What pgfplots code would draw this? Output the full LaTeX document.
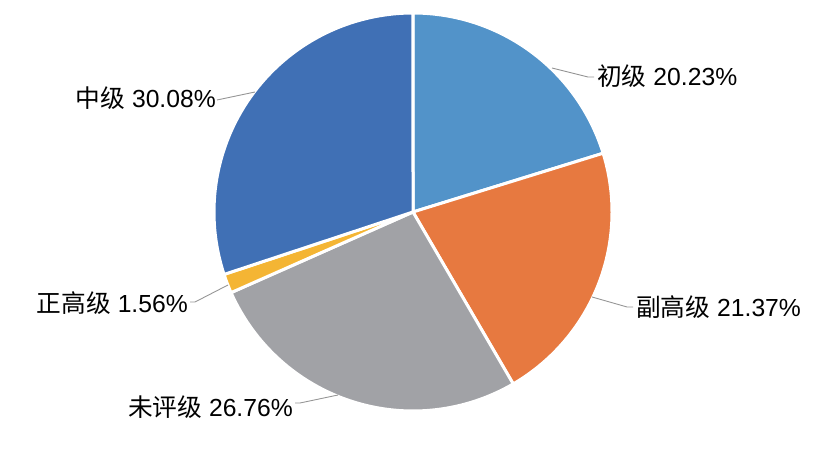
\documentclass[border=0pt]{standalone}
\usepackage{pgfplots}
\pgfplotsset{compat=1.18}
\usepackage{fontspec}
\setmainfont{Liberation Sans}
\newfontfamily\cjk{Noto Sans CJK SC}
\definecolor{cA}{RGB}{82,147,201}
\definecolor{cB}{RGB}{231,121,64}
\definecolor{cC}{RGB}{161,162,166}
\definecolor{cD}{RGB}{244,181,52}
\definecolor{cE}{RGB}{64,112,181}
\definecolor{lead}{RGB}{150,150,150}
% #1 cumulative percent before slice, #2 slice percent, #3 colour
\newcommand\slice[3]{%
  \pgfmathsetmacro\sa{90-3.6*#1}%
  \pgfmathsetmacro\sb{90-3.6*(#1+#2)}%
  \addplot[fill=#3, draw=white, line width=3bp, line join=round,
    domain=\sa:\sb, samples=90, variable=\t]
    ({413+199*cos(\t)},{251+199*sin(\t)}) -- (axis cs:413,251) -- cycle;
}
\begin{document}
\begin{tikzpicture}
\begin{axis}[width=829bp, height=463bp, scale only axis,
  xmin=0, xmax=829, ymin=0, ymax=463, hide axis, clip=false]
\path (axis cs:0,0) rectangle (axis cs:829,463);
\slice{0}{20.23}{cA}
\slice{20.23}{21.37}{cB}
\slice{41.60}{26.76}{cC}
\slice{68.36}{1.56}{cD}
\slice{69.92}{30.08}{cE}
% leader lines
\addplot[lead, line width=0.9bp, mark=none] coordinates {(552,395) (588,386) (594,386)};
\addplot[lead, line width=0.9bp, mark=none] coordinates {(592,166) (627,156) (633,156)};
\addplot[lead, line width=0.9bp, mark=none] coordinates {(338,68) (300,60) (295,60)};
\addplot[lead, line width=0.9bp, mark=none] coordinates {(228,178) (195,161) (190,161)};
\addplot[lead, line width=0.9bp, mark=none] coordinates {(255,371) (217,363) (217,363)};
% labels
\begin{scope}[every node/.style={inner sep=0pt, font=\fontsize{24.7bp}{29bp}\selectfont}]
\node[anchor=west] at (axis cs:597,387) {{\cjk 初级} 20.23\%};
\node[anchor=west] at (axis cs:636,156) {{\cjk 副高级} 21.37\%};
\node[anchor=east] at (axis cs:293,56) {{\cjk 未评级} 26.76\%};
\node[anchor=east] at (axis cs:188,160) {{\cjk 正高级} 1.56\%};
\node[anchor=east] at (axis cs:216,365) {{\cjk 中级} 30.08\%};
\end{scope}
\end{axis}
\end{tikzpicture}
\end{document}
